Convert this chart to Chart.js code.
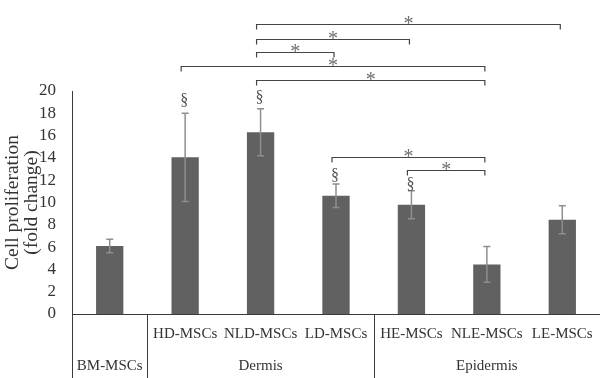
<!DOCTYPE html>
<html>
<head>
<meta charset="utf-8">
<script src="https://cdn.jsdelivr.net/npm/chart.js@4/dist/chart.umd.min.js"></script>
<style>
html,body{margin:0;padding:0;background:#fff;}
#wrap{width:600px;height:378px;position:relative;}
</style>
</head>
<body>
<div id="wrap"><canvas id="c" width="600" height="378"></canvas></div>
<script>
// ---- data ----
const categories = ['BM-MSCs','HD-MSCs','NLD-MSCs','LD-MSCs','HE-MSCs','NLE-MSCs','LE-MSCs'];
const values = [6.1, 14.05, 16.3, 10.6, 9.8, 4.45, 8.45];
const errors = [0.6, 3.95, 2.1, 1.05, 1.25, 1.6, 1.25];
const groupLabels = ['BM-MSCs', 'Dermis', 'Epidermis'];
const groupStart = [0, 1, 4];
const groupEnd = [0, 3, 6];
const sectionIdx = [1, 2, 3, 4];
const sectionLevel = [19.1, 19.4, 12.4, 11.6];
const bracketFrom = [2, 2, 2, 1, 2, 3, 4];
const bracketTo = [6, 4, 3, 5, 5, 5, 5];
const bracketLevel = [26.05, 24.7, 23.5, 22.2, 20.95, 14.1, 12.9];
const yTicksMax = 20;
const yStep = 2;
const yTitle = ['Cell proliferation', '(fold change)'];

const FONT = '"Liberation Serif", "Times New Roman", serif';

const annot = {
  id: 'annot',
  afterDatasetsDraw(chart) {
    const ctx = chart.ctx;
    const y = chart.scales.y;
    const meta = chart.getDatasetMeta(0);
    const ca = chart.chartArea;
    ctx.save();
    // error bars
    ctx.strokeStyle = '#8e8e8e';
    ctx.lineWidth = 1.5;
    values.forEach((v, i) => {
      const cx = meta.data[i].x;
      const yt = y.getPixelForValue(v + errors[i]);
      const yb = y.getPixelForValue(v - errors[i]);
      ctx.beginPath();
      ctx.moveTo(cx, yt); ctx.lineTo(cx, yb);
      ctx.moveTo(cx - 3.5, yt); ctx.lineTo(cx + 3.5, yt);
      ctx.moveTo(cx - 3.5, yb); ctx.lineTo(cx + 3.5, yb);
      ctx.stroke();
    });
    // section markers
    ctx.fillStyle = '#505050';
    ctx.font = '16px ' + FONT;
    ctx.textAlign = 'center';
    ctx.textBaseline = 'middle';
    sectionIdx.forEach((idx, k) => {
      ctx.fillText('§', meta.data[idx].x - 1, y.getPixelForValue(sectionLevel[k]));
    });
    // brackets
    ctx.strokeStyle = '#444';
    ctx.lineWidth = 1.2;
    bracketFrom.forEach((f, k) => {
      const x1 = meta.data[f].x - 4;
      const x2 = meta.data[bracketTo[k]].x - 2;
      const by = Math.round(y.getPixelForValue(bracketLevel[k])) + 0.5;
      ctx.beginPath();
      ctx.moveTo(x1, by + 5); ctx.lineTo(x1, by); ctx.lineTo(x2, by); ctx.lineTo(x2, by + 5);
      ctx.stroke();
      ctx.fillStyle = '#6e6e6e';
      ctx.font = '20px ' + FONT;
      ctx.textBaseline = 'alphabetic';
      ctx.fillText('*', (x1 + x2) / 2, by + 5);
    });
    // x axis table
    ctx.strokeStyle = '#3a3a3a';
    ctx.lineWidth = 1;
    const bottom = chart.height;
    const step = (ca.right - ca.left) / categories.length;
    ctx.beginPath();
    ctx.moveTo(ca.left, ca.bottom + 0.5); ctx.lineTo(ca.right, ca.bottom + 0.5);
    ctx.moveTo(ca.left + 0.5, ca.bottom); ctx.lineTo(ca.left + 0.5, bottom);
    groupEnd.forEach((e, g) => {
      if (g < groupEnd.length - 1) {
        const sx = Math.round(ca.left + (e + 1) * step) + 0.5;
        ctx.moveTo(sx, ca.bottom); ctx.lineTo(sx, bottom);
      }
    });
    ctx.stroke();
    ctx.fillStyle = '#333';
    ctx.font = '15px ' + FONT;
    ctx.textBaseline = 'middle';
    groupLabels.forEach((lab, g) => {
      const s = groupStart[g], e = groupEnd[g];
      if (e > s) {
        for (let i = s; i <= e; i++) ctx.fillText(categories[i], meta.data[i].x, ca.bottom + 20);
      }
      const gx = ca.left + ((s + e + 1) / 2) * step;
      ctx.fillText(lab, gx, ca.bottom + 52);
    });
    // y axis title
    ctx.font = '19.5px ' + FONT;
    ctx.fillStyle = '#333';
    const cy = (ca.top + ca.bottom) / 2;
    yTitle.forEach((t, k) => {
      ctx.save();
      ctx.translate(13 + k * 18.5, cy);
      ctx.rotate(-Math.PI / 2);
      ctx.textAlign = 'center';
      ctx.textBaseline = 'middle';
      ctx.fillText(t, 0, 0);
      ctx.restore();
    });
    ctx.restore();
  }
};

new Chart(document.getElementById('c'), {
  type: 'bar',
  data: {
    labels: categories,
    datasets: [{
      data: values,
      backgroundColor: '#616161',
      borderWidth: 0,
      barPercentage: 0.362,
      categoryPercentage: 1.0
    }]
  },
  options: {
    responsive: false,
    animation: false,
    events: [],
    layout: { padding: { top: 91, bottom: 64, left: 0, right: 0 } },
    plugins: { legend: { display: false }, tooltip: { enabled: false } },
    scales: {
      x: { display: false, offset: true },
      y: {
        min: 0, max: yTicksMax,
        ticks: { stepSize: yStep, autoSkip: false, color: '#333', padding: 8, font: { family: FONT, size: 17 } },
        grid: { display: false },
        border: { display: true, color: '#3a3a3a', width: 1 },
        title: { display: false },
        afterFit(scale) { scale.width = 72; }
      }
    }
  },
  plugins: [annot]
});
</script>
</body>
</html>
